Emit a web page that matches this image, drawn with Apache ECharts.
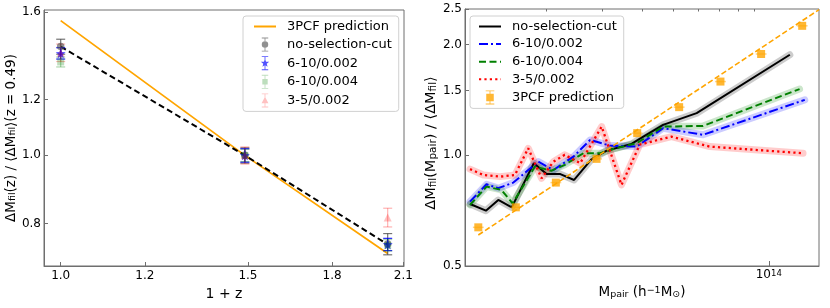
<!DOCTYPE html>
<html><head><meta charset="utf-8">
<script src="https://cdn.jsdelivr.net/npm/echarts@6/dist/echarts.min.js"></script>
<style>html,body{margin:0;padding:0;background:#fff}#c{width:830px;height:308px}</style>
</head><body><div id="c"></div>
<script>
// ---------- Left panel data ----------
const leftXTicks = [1.0, 1.2, 1.5, 1.8, 2.1];
const leftYTicks = [0.8, 1.0, 1.2, 1.6];
const onePlusZ = [1.0, 1.49, 2.03];
const pcfLeft = [1.555, 1.0, 0.725];
const fitLeft = [1.428, 1.0, 0.747];
const noCutVal = [1.428, 1.0, 0.748];
const noCutErr = [0.035, 0.025, 0.026];
const s610a_Val = [1.397, 1.0, 0.747];
const s610a_Err = [0.026, 0.022, 0.015];
const s610b_Val = [1.358, 1.0, 0.745];
const s610b_Err = [0.022, 0.02, 0.014];
const s35_Val = [1.400, 1.0, 0.816];
const s35_Err = [0.04, 0.028, 0.025];

// ---------- Right panel data ----------
const rightYTicks = [0.5, 1.0, 1.5, 2.0, 2.5];
const rightXMajor = [1e14];
const rightXMinor = [2e13, 3e13, 4e13, 5e13, 6e13, 7e13, 8e13, 9e13];
const blackM = [1.148e13, 1.288e13, 1.409e13, 1.553e13, 1.823e13, 2.0e13, 2.2e13, 2.44e13, 2.77e13, 3.09e13, 3.7e13, 4.03e13, 4.65e13, 5.93e13, 1.165e14];
const blackV = [0.737, 0.707, 0.756, 0.722, 0.952, 0.890, 0.890, 0.857, 0.976, 1.03, 1.074, 1.124, 1.210, 1.302, 1.877];
const blueM = [1.148e13, 1.294e13, 1.409e13, 1.571e13, 1.883e13, 2.10e13, 2.43e13, 2.74e13, 3.16e13, 3.84e13, 4.65e13, 6.21e13, 1.298e14];
const blueV = [0.748, 0.834, 0.814, 0.843, 0.961, 0.912, 0.992, 1.101, 1.063, 1.056, 1.185, 1.137, 1.415];
const greenM = [1.148e13, 1.294e13, 1.442e13, 1.563e13, 1.837e13, 2.07e13, 2.28e13, 2.61e13, 2.95e13, 3.3e13, 3.84e13, 4.65e13, 6.21e13, 1.25e14];
const greenV = [0.733, 0.822, 0.805, 0.740, 0.932, 0.908, 0.942, 1.013, 1.013, 1.045, 1.079, 1.197, 1.202, 1.514];
const redM = [1.148e13, 1.265e13, 1.426e13, 1.589e13, 1.750e13, 1.928e13, 2.10e13, 2.28e13, 2.55e13, 2.98e13, 3.44e13, 3.93e13, 4.94e13, 6.52e13, 1.282e14];
const redV = [0.917, 0.884, 0.875, 0.884, 1.045, 0.866, 0.961, 1.003, 0.952, 1.197, 0.831, 1.07, 1.124, 1.056, 1.013];
const pcfM = [1.219e13, 1.600e13, 2.138e13, 2.871e13, 3.855e13, 5.224e13, 7.047e13, 9.462e13, 1.274e14];
const pcfV = [0.637, 0.722, 0.843, 0.978, 1.149, 1.352, 1.587, 1.886, 2.25];
const pcfXErrDex = [0.017, 0.017, 0.017, 0.017, 0.017, 0.017, 0.017, 0.017, 0.017];
const pcfLineM = [1.219e13, 1.439e14];
const pcfLineV = [0.607, 2.49];

const FONT = 'DejaVu Sans';
const AX = '#6f6f6f';
const zip = (a, b) => a.map((v, i) => [v, b[i]]);

const STAR = 'path://M7 3.4L7.882 5.787L10.424 5.888L8.427 7.464L9.116 9.912L7 8.5L4.884 9.912L5.573 7.464L3.576 5.888L6.118 5.787Z';
const EB = 'M6.6 0.5H7.4V13.5H6.6Z M4 0.5H10V1.3H4Z M4 12.7H10V13.5H4Z ';
const ICON_CIRCLE = 'path://' + EB + 'M10 7A3 3 0 1 1 4 7A3 3 0 1 1 10 7Z';
const ICON_STAR = 'path://' + EB + 'M7 2.9L8.0 5.6L10.9 5.7L8.6 7.5L9.4 10.3L7 8.7L4.6 10.3L5.4 7.5L3.1 5.7L6.0 5.6Z';
const ICON_SQ = 'path://' + EB + 'M4.5 4.5H9.5V9.5H4.5Z';
const ICON_TRI = 'path://' + EB + 'M7 3.6L10.2 9.6H3.8Z';
const ICON_PCF = 'path://M6.6 0.5H7.4V13.5H6.6Z M3 0.5H11V1.3H3Z M3 12.7H11V13.5H3Z M3.5 3.5H10.5V10.5H3.5Z';

function vErr(params, api) {
  const x = api.value(0), lo = api.value(1), hi = api.value(2);
  const a = api.coord([x, lo]), b = api.coord([x, hi]);
  const w = 4.5;
  const style = {stroke: api.visual('color'), lineWidth: 1.2, fill: null};
  return {type: 'group', children: [
    {type: 'line', shape: {x1: a[0], y1: a[1], x2: b[0], y2: b[1]}, style},
    {type: 'line', shape: {x1: a[0] - w, y1: a[1], x2: a[0] + w, y2: a[1]}, style},
    {type: 'line', shape: {x1: b[0] - w, y1: b[1], x2: b[0] + w, y2: b[1]}, style}
  ]};
}
function hErr(params, api) {
  const lo = api.value(0), hi = api.value(1), y = api.value(2);
  const a = api.coord([lo, y]), b = api.coord([hi, y]);
  return {type: 'line', shape: {x1: a[0], y1: a[1], x2: b[0], y2: b[1]},
    style: {stroke: api.visual('color'), lineWidth: 1.5, fill: null}};
}
function errData(xs, vals, errs) { return xs.map((x, i) => [x, vals[i] - errs[i], vals[i] + errs[i]]); }

const leftPts = [
  {name: 'L:no-selection-cut', val: noCutVal, err: noCutErr, color: 'rgba(70,70,70,0.75)', symbol: 'circle', size: 7.5, icon: ICON_CIRCLE},
  {name: 'L:6-10/0.002', val: s610a_Val, err: s610a_Err, color: 'rgba(0,0,255,0.85)', symbol: STAR, size: 10, icon: ICON_STAR},
  {name: 'L:6-10/0.004', val: s610b_Val, err: s610b_Err, color: 'rgba(0,128,0,0.32)', symbol: 'rect', size: 7, icon: ICON_SQ},
  {name: 'L:3-5/0.002', val: s35_Val, err: s35_Err, color: 'rgba(255,0,0,0.3)', symbol: 'triangle', size: 8, icon: ICON_TRI}
];

const series = [];
// left
series.push({name: 'L:3PCF prediction', type: 'line', xAxisIndex: 0, yAxisIndex: 0, data: zip(onePlusZ, pcfLeft),
  symbol: 'none', lineStyle: {color: '#FFA500', width: 1.8}, itemStyle: {color: '#FFA500'}, z: 2});
series.push({name: 'fit', type: 'line', xAxisIndex: 0, yAxisIndex: 0, data: zip(onePlusZ, fitLeft),
  symbol: 'none', lineStyle: {color: '#000', width: 2, type: [6, 3.5]}, z: 3});
leftPts.forEach(p => {
  series.push({name: p.name + '_err', type: 'custom', xAxisIndex: 0, yAxisIndex: 0, renderItem: vErr,
    encode: {x: 0, y: [1, 2]}, data: errData(onePlusZ, p.val, p.err), itemStyle: {color: p.color}, z: 4, silent: true});
  series.push({name: p.name, type: 'scatter', xAxisIndex: 0, yAxisIndex: 0, data: zip(onePlusZ, p.val),
    symbol: p.symbol, symbolSize: p.size, itemStyle: {color: p.color}, z: 5});
});
// right
const rightLines = [
  {name: 'R:no-selection-cut', m: blackM, v: blackV, color: '#000', band: 'rgba(0,0,0,0.2)', type: 'solid', width: 2},
  {name: 'R:6-10/0.002', m: blueM, v: blueV, color: '#0000ff', band: 'rgba(0,0,255,0.2)', type: [9, 3, 2, 3], width: 2},
  {name: 'R:6-10/0.004', m: greenM, v: greenV, color: '#008000', band: 'rgba(0,128,0,0.2)', type: [7, 3.5], width: 2},
  {name: 'R:3-5/0.002', m: redM, v: redV, color: '#ff0000', band: 'rgba(255,0,0,0.2)', type: [2.2, 3.2], width: 2.3}
];
rightLines.forEach(l => {
  series.push({name: l.name + '_band', type: 'line', xAxisIndex: 1, yAxisIndex: 1, data: zip(l.m, l.v), symbol: 'none',
    lineStyle: {color: l.band, width: 7, join: 'round', cap: 'round'}, silent: true, z: 1});
});
rightLines.forEach(l => {
  series.push({name: l.name, type: 'line', xAxisIndex: 1, yAxisIndex: 1, data: zip(l.m, l.v), symbol: 'none',
    lineStyle: {color: l.color, width: l.width, type: l.type}, itemStyle: {color: l.color}, z: 3});
});
series.push({name: 'pcfline', type: 'line', xAxisIndex: 1, yAxisIndex: 1, data: zip(pcfLineM, pcfLineV), symbol: 'none',
  lineStyle: {color: '#FFA500', width: 1.6, type: [5.5, 2.6]}, z: 4});
series.push({name: 'pcf_err', type: 'custom', xAxisIndex: 1, yAxisIndex: 1, renderItem: hErr, encode: {x: [0, 1], y: 2},
  data: pcfM.map((m, i) => [m * Math.pow(10, -pcfXErrDex[i]), m * Math.pow(10, pcfXErrDex[i]), pcfV[i]]),
  itemStyle: {color: 'rgba(255,165,0,0.5)'}, z: 4, silent: true});
series.push({name: 'R:3PCF prediction', type: 'scatter', xAxisIndex: 1, yAxisIndex: 1, data: zip(pcfM, pcfV),
  symbol: 'rect', symbolSize: 8, itemStyle: {color: '#FFA500'}, z: 5});

const tickText = {fontFamily: FONT, fontSize: 12, color: '#000'};
const legendCommon = {
  orient: 'vertical', itemWidth: 22, itemHeight: 14, itemGap: 4.6,
  padding: [4, 7, 4, 10], borderColor: '#d0d0d0', borderWidth: 1, borderRadius: 3,
  backgroundColor: 'rgba(255,255,255,0.85)',
  textStyle: {fontFamily: FONT, fontSize: 13, color: '#000', padding: [0, 0, 0, 6]},
  formatter: n => n.slice(2)
};
const noSym = {opacity: 0};
const subRich = {
  n: {fontFamily: FONT, fontSize: 13.5, color: '#000'},
  s: {fontFamily: FONT, fontSize: 9.5, color: '#000', verticalAlign: 'bottom'},
  p: {fontFamily: FONT, fontSize: 9.5, color: '#000', verticalAlign: 'top'}
};
const subRichR = {
  n: {fontFamily: FONT, fontSize: 14.5, color: '#000'},
  s: {fontFamily: FONT, fontSize: 10.5, color: '#000', verticalAlign: 'bottom'}
};

const option = {
  animation: false,
  backgroundColor: '#fff',
  grid: [
    {left: 44, top: 10, width: 360, height: 256, show: true, borderColor: AX, borderWidth: 1, backgroundColor: 'transparent'},
    {left: 465, top: 9, width: 354, height: 257, show: true, borderColor: AX, borderWidth: 1, backgroundColor: 'transparent'}
  ],
  legend: [
    Object.assign({}, legendCommon, {left: 243, top: 16, data: [
      {name: 'L:3PCF prediction', itemStyle: noSym},
      ...leftPts.map(p => ({name: p.name, icon: p.icon}))
    ]}),
    Object.assign({}, legendCommon, {left: 470, top: 16, padding: [4, 7, 4, 8], data: [
      {name: 'R:no-selection-cut', itemStyle: noSym}, {name: 'R:6-10/0.002', itemStyle: noSym},
      {name: 'R:6-10/0.004', itemStyle: noSym}, {name: 'R:3-5/0.002', itemStyle: noSym},
      {name: 'R:3PCF prediction', icon: ICON_PCF}
    ]})
  ],
  xAxis: [
    {type: 'log', gridIndex: 0, min: 0.9645, max: 2.103, logBase: 10,
      axisLine: {lineStyle: {color: AX}}, splitLine: {show: false},
      axisTick: {inside: true, length: 4, customValues: leftXTicks, lineStyle: {color: AX}},
      axisLabel: {customValues: leftXTicks, formatter: v => Number(v).toFixed(1), margin: 4, ...tickText},
      name: '1 + z', nameLocation: 'middle', nameGap: 14,
      nameTextStyle: {fontFamily: FONT, fontSize: 14, color: '#000'}},
    {type: 'log', gridIndex: 1, min: 1.107e13, max: 1.439e14, logBase: 10,
      axisLine: {lineStyle: {color: AX}}, splitLine: {show: false},
      axisTick: {inside: true, length: 5, customValues: rightXMajor, lineStyle: {color: AX}},
      axisLabel: {customValues: rightXMajor, formatter: () => '{b|10}{sp|14}', margin: 3,
        rich: {b: {fontFamily: FONT, fontSize: 12, color: '#000'}, sp: {fontFamily: FONT, fontSize: 8.5, color: '#000', verticalAlign: 'top'}}},
      name: '{n|M}{s|pair}{n| (h}{p|−1}{n|M}{s|⊙}{n|)}', nameLocation: 'middle', nameGap: 15,
      nameTextStyle: {fontFamily: FONT, fontSize: 14, color: '#000', rich: subRich}},
    {type: 'log', gridIndex: 1, min: 1.107e13, max: 1.439e14, logBase: 10,
      axisLine: {show: false}, splitLine: {show: false}, axisLabel: {show: false},
      axisTick: {inside: true, length: 2.5, customValues: rightXMinor, lineStyle: {color: AX}}}
  ],
  yAxis: [
    {type: 'log', gridIndex: 0, min: 0.696, max: 1.61, logBase: 10,
      axisLine: {show: true, lineStyle: {color: AX}}, splitLine: {show: false},
      axisTick: {show: true, inside: true, length: 4, customValues: leftYTicks, lineStyle: {color: AX}},
      axisLabel: {customValues: leftYTicks, formatter: v => Number(v).toFixed(1), margin: 3, ...tickText},
      name: '{n|ΔM}{s|fil}{n|(z) / ⟨ΔM}{s|fil}{n|⟩(z = 0.49)}', nameLocation: 'middle', nameGap: 24,
      nameTextStyle: {fontFamily: FONT, fontSize: 13.5, color: '#000', rich: subRich}},
    {type: 'log', gridIndex: 1, min: 0.5, max: 2.5, logBase: 10,
      axisLine: {show: true, lineStyle: {color: AX}}, splitLine: {show: false},
      axisTick: {show: true, inside: true, length: 4, customValues: rightYTicks, lineStyle: {color: AX}},
      axisLabel: {customValues: rightYTicks, formatter: v => Number(v).toFixed(1), margin: 3, ...tickText},
      name: '{n|ΔM}{s|fil}{n|(M}{s|pair}{n|) / ⟨ΔM}{s|fil}{n|⟩}', nameLocation: 'middle', nameGap: 22,
      nameTextStyle: {fontFamily: FONT, fontSize: 14.5, color: '#000', rich: subRichR, padding: [0, 11, 0, 0]}}
  ],
  series
};
const chart = echarts.init(document.getElementById('c'), null, {renderer: 'canvas'});
chart.setOption(option);
</script></body></html>
